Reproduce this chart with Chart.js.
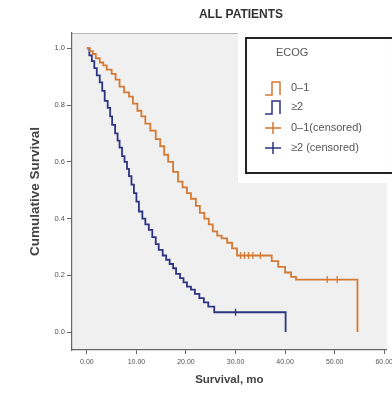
<!DOCTYPE html>
<html>
<head>
<meta charset="utf-8">
<script src="https://cdn.jsdelivr.net/npm/chart.js@4"></script>
<style>
  html, body { margin: 0; padding: 0; background: #fff; }
  canvas { display: block; }
</style>
</head>
<body>
<canvas id="kmChart" width="392" height="393"></canvas>
<script>
// Kaplan-Meier steps (months, cumulative survival)
const ecog01Time = [0, 0.6, 1.2, 1.8, 2.6, 3.3, 4.0, 5.0, 5.8, 6.6, 7.5, 8.5, 9.3, 10.2, 11.0, 11.8, 12.8, 13.9, 14.8, 15.6, 16.4, 17.4, 18.4, 19.3, 20.2, 21.0, 22.0, 22.8, 23.7, 24.6, 25.4, 26.3, 27.2, 28.3, 29.3, 30.3, 37.3, 38.6, 40.0, 41.2, 42.2, 54.6];
const ecog01Surv = [1.0, 0.99, 0.98, 0.965, 0.95, 0.94, 0.925, 0.91, 0.89, 0.865, 0.845, 0.83, 0.805, 0.78, 0.76, 0.735, 0.71, 0.68, 0.655, 0.625, 0.60, 0.565, 0.53, 0.51, 0.49, 0.47, 0.445, 0.42, 0.40, 0.38, 0.355, 0.34, 0.33, 0.315, 0.295, 0.27, 0.25, 0.23, 0.21, 0.195, 0.185, 0.0];

const ecog2Time = [0, 0.5, 1.0, 1.5, 2.0, 2.6, 3.1, 3.6, 4.2, 4.7, 5.1, 5.7, 6.2, 6.6, 7.1, 7.6, 8.1, 8.5, 9.0, 9.5, 10.0, 10.5, 11.2, 11.8, 12.5, 13.2, 13.9, 14.5, 15.3, 16.0, 16.7, 17.4, 18.0, 18.8, 19.5, 20.2, 21.0, 21.8, 22.7, 23.6, 24.5, 25.7, 40.1];
const ecog2Surv = [1.0, 0.975, 0.955, 0.93, 0.905, 0.88, 0.85, 0.815, 0.79, 0.76, 0.73, 0.70, 0.675, 0.65, 0.62, 0.60, 0.575, 0.55, 0.52, 0.49, 0.46, 0.425, 0.40, 0.38, 0.36, 0.335, 0.31, 0.29, 0.27, 0.255, 0.24, 0.225, 0.205, 0.19, 0.175, 0.16, 0.15, 0.135, 0.12, 0.105, 0.09, 0.07, 0.0];

// censored observations
const ecog01CensTime = [31.0, 31.8, 32.6, 33.5, 35.0, 48.5, 50.5];
const ecog01CensSurv = [0.27, 0.27, 0.27, 0.27, 0.27, 0.185, 0.185];
const ecog2CensTime = [30.0];
const ecog2CensSurv = [0.07];

const xTickValues = [0, 10, 20, 30, 40, 50, 60];
const yTickValues = [0, 0.2, 0.4, 0.6, 0.8, 1.0];

const groupLabels = ['0\u20131', '\u22652', '0\u20131(censored)', '\u22652 (censored)'];
const legendTitle = 'ECOG';
const chartTitle = 'ALL PATIENTS';

const orange = '#d47a35';
const blue = '#2e3482';

function pts(xs, ys) {
    return xs.map((x, i) => ({ x: x, y: ys[i] }));
}

const decorations = {
    id: 'decorations',
    beforeDraw(chart) {
        const ctx = chart.ctx;
        const a = chart.chartArea;
        ctx.save();
        ctx.fillStyle = '#f0f0f0';
        ctx.fillRect(a.left, a.top, a.right - a.left, a.bottom - a.top);
        ctx.strokeStyle = '#b8b8b8';
        ctx.lineWidth = 1;
        ctx.beginPath();
        ctx.moveTo(a.left, a.top + 0.5);
        ctx.lineTo(a.right, a.top + 0.5);
        ctx.stroke();
        // title
        ctx.fillStyle = '#333';
        ctx.font = 'bold 12px "Liberation Sans", Arial, sans-serif';
        ctx.textAlign = 'center';
        ctx.textBaseline = 'middle';
        ctx.fillText(chartTitle, 241, 15);
        ctx.restore();
    },
    afterDraw(chart) {
        const ctx = chart.ctx;
        const a = chart.chartArea;
        ctx.save();
        // legend box
        ctx.fillStyle = '#ffffff';
        ctx.fillRect(238, a.top, a.right - 238, 150);
        ctx.strokeStyle = '#222';
        ctx.lineWidth = 2;
        ctx.strokeRect(246, 38, 160, 135);

        ctx.fillStyle = '#555';
        ctx.font = '11px "Liberation Sans", Arial, sans-serif';
        ctx.textAlign = 'left';
        ctx.textBaseline = 'middle';
        ctx.fillText(legendTitle, 276, 53);

        const rows = [88, 107, 128, 148];
        const cols = [orange, blue, orange, blue];
        rows.forEach((y, i) => {
            ctx.strokeStyle = cols[i];
            ctx.lineWidth = 1.5;
            ctx.beginPath();
            if (i < 2) {
                ctx.moveTo(265, y + 7);
                ctx.lineTo(272, y + 7);
                ctx.lineTo(272, y - 6);
                ctx.lineTo(280, y - 6);
                ctx.lineTo(280, y + 7);
            } else {
                ctx.moveTo(265, y);
                ctx.lineTo(281, y);
                ctx.moveTo(273, y - 6);
                ctx.lineTo(273, y + 6);
            }
            ctx.stroke();
            ctx.fillStyle = '#555';
            ctx.fillText(groupLabels[i], 291, y);
        });
        ctx.restore();
    }
};

const ctx = document.getElementById('kmChart').getContext('2d');

new Chart(ctx, {
    type: 'line',
    data: {
        datasets: [
            {
                label: groupLabels[0],
                data: pts(ecog01Time, ecog01Surv),
                stepped: true,
                borderColor: orange,
                borderWidth: 1.8,
                pointRadius: 0,
                fill: false
            },
            {
                label: groupLabels[1],
                data: pts(ecog2Time, ecog2Surv),
                stepped: true,
                borderColor: blue,
                borderWidth: 1.8,
                pointRadius: 0,
                fill: false
            },
            {
                type: 'scatter',
                label: groupLabels[2],
                data: pts(ecog01CensTime, ecog01CensSurv),
                pointStyle: 'line',
                rotation: 90,
                pointRadius: 3.5,
                borderColor: orange,
                borderWidth: 1.3,
                showLine: false
            },
            {
                type: 'scatter',
                label: groupLabels[3],
                data: pts(ecog2CensTime, ecog2CensSurv),
                pointStyle: 'line',
                rotation: 90,
                pointRadius: 3.5,
                borderColor: blue,
                borderWidth: 1.3,
                showLine: false
            }
        ]
    },
    options: {
        responsive: false,
        animation: false,
        layout: { padding: { top: 33, left: 0, right: 0, bottom: 0 } },
        plugins: {
            legend: { display: false },
            tooltip: { enabled: false },
            title: { display: false }
        },
        scales: {
            x: {
                type: 'linear',
                min: -3,
                max: 60.5,
                afterBuildTicks: s => { s.ticks = xTickValues.map(v => ({ value: v })); },
                afterFit: s => { s.height = 43; s.paddingLeft = 0; s.paddingRight = 0; },
                ticks: {
                    callback: v => Number(v).toFixed(2),
                    font: { size: 7, family: '"Liberation Sans", Arial, sans-serif' },
                    color: '#555',
                    padding: 4,
                    maxRotation: 0,
                    autoSkip: false
                },
                grid: { drawOnChartArea: false, drawTicks: true, tickLength: 4, tickColor: '#666' },
                border: { display: true, color: '#666', width: 1.2 },
                title: {
                    display: true,
                    text: 'Survival, mo',
                    color: '#444',
                    font: { size: 11.5, weight: 'bold', family: '"Liberation Sans", Arial, sans-serif' },
                    padding: { top: 0, bottom: 6 }
                }
            },
            y: {
                type: 'linear',
                min: -0.063,
                max: 1.054,
                afterBuildTicks: s => { s.ticks = yTickValues.map(v => ({ value: v })); },
                afterFit: s => { s.width = 72; s.paddingTop = 0; s.paddingBottom = 0; },
                ticks: {
                    callback: v => Number(v).toFixed(1),
                    font: { size: 7.5, family: '"Liberation Sans", Arial, sans-serif' },
                    color: '#555',
                    padding: 2
                },
                grid: { drawOnChartArea: false, drawTicks: true, tickLength: 5, tickColor: '#666' },
                border: { display: true, color: '#666', width: 1.2 },
                title: {
                    display: true,
                    text: 'Cumulative Survival',
                    color: '#444',
                    font: { size: 13.5, weight: 'bold', family: '"Liberation Sans", Arial, sans-serif' },
                    padding: { top: 27, bottom: 0 }
                }
            }
        }
    },
    plugins: [decorations]
});
</script>
</body>
</html>
